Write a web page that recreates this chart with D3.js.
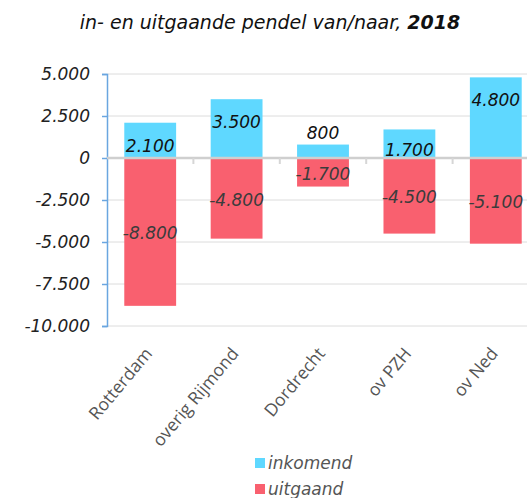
<!DOCTYPE html>
<html>
<head>
<meta charset="utf-8">
<script src="https://cdn.jsdelivr.net/npm/d3@7"></script>
<style>
  body { margin: 0; background: #fff; }
  svg { display: block; font-family: 'DejaVu Sans', Verdana, sans-serif; }
</style>
</head>
<body>
<svg width="527" height="498"></svg>
<script>
var regios = ['Rotterdam', 'overig Rijmond', 'Dordrecht', 'ov PZH', 'ov Ned'];
var inkomend = [2100, 3500, 800, 1700, 4800];
var uitgaand = [-8800, -4800, -1700, -4500, -5100];
var yTicks = [5000, 2500, 0, -2500, -5000, -7500, -10000];

var blauw = '#5fd8ff';
var rood = '#f9606f';

var svg = d3.select('svg');

// Dutch thousands separator and a plain hyphen for negatives
var fmt = function (v) {
    return d3.format(',')(v).replace(/,/g, '.').replace('\u2212', '-');
};

var scaleX = d3.scaleBand().domain(regios).range([107, 539])
    .paddingInner(0.4).paddingOuter(0.2);
var scaleY = d3.scaleLinear().domain([5000, -10000]).range([74, 326]);

// gridlines
svg.append('g')
    .selectAll('line')
    .data(yTicks)
    .enter()
    .append('line')
    .attr('x1', 107)
    .attr('x2', 527)
    .attr('y1', function (d) { return scaleY(d); })
    .attr('y2', function (d) { return scaleY(d); })
    .attr('stroke', '#dcdcdc')
    .attr('stroke-width', 1);

// y axis
var yAxis = svg.append('g')
    .attr('transform', 'translate(107,0)')
    .call(d3.axisLeft(scaleY).tickValues(yTicks).tickSize(5).tickPadding(12).tickFormat(fmt));
yAxis.select('.domain').attr('stroke', '#6aa6e0').attr('stroke-width', 1.5);
yAxis.selectAll('.tick line').attr('stroke', '#6aa6e0').attr('stroke-width', 1.5);
yAxis.selectAll('.tick text')
    .attr('font-size', 17)
    .attr('font-style', 'italic')
    .attr('font-family', 'DejaVu Sans')
    .attr('fill', '#222');

// bars
svg.selectAll('rect.in')
    .data(inkomend)
    .enter()
    .append('rect')
    .attr('class', 'in')
    .attr('x', function (d, i) { return scaleX(regios[i]); })
    .attr('width', scaleX.bandwidth())
    .attr('y', function (d) { return scaleY(d); })
    .attr('height', function (d) { return scaleY(0) - scaleY(d); })
    .attr('fill', blauw);

svg.selectAll('rect.uit')
    .data(uitgaand)
    .enter()
    .append('rect')
    .attr('class', 'uit')
    .attr('x', function (d, i) { return scaleX(regios[i]); })
    .attr('width', scaleX.bandwidth())
    .attr('y', scaleY(0))
    .attr('height', function (d) { return scaleY(d) - scaleY(0); })
    .attr('fill', rood);

// zero axis
var xAxis = svg.append('g')
    .attr('transform', 'translate(0,' + scaleY(0) + ')');
xAxis.append('line')
    .attr('x1', 107).attr('x2', 527)
    .attr('stroke', '#cfcfcf').attr('stroke-width', 2.5);
xAxis.selectAll('line.tk')
    .data(regios.slice(1))
    .enter()
    .append('line')
    .attr('class', 'tk')
    .attr('x1', function (d) { return scaleX(d) - scaleX.step() * scaleX.paddingInner() / 2; })
    .attr('x2', function (d) { return scaleX(d) - scaleX.step() * scaleX.paddingInner() / 2; })
    .attr('y1', 0).attr('y2', 6)
    .attr('stroke', '#d6d6d6').attr('stroke-width', 2);

// x labels
svg.append('g')
    .selectAll('text')
    .data(regios)
    .enter()
    .append('text')
    .attr('transform', function (d) {
        return 'translate(' + (scaleX(d) + scaleX.bandwidth() / 2 + 3) + ',' + 354 + ') rotate(-50)';
    })
    .attr('text-anchor', 'end')
    .attr('font-family', 'Open Sans')
    .attr('font-size', 17.5)
    .attr('fill', '#555')
    .text(function (d) { return d; });

// data labels
svg.selectAll('text.lin')
    .data(inkomend)
    .enter()
    .append('text')
    .attr('class', 'lin')
    .attr('x', function (d, i) { return scaleX(regios[i]) + scaleX.bandwidth() / 2; })
    .attr('y', function (d) {
        var h = scaleY(0) - scaleY(d);
        return h > 25 ? Math.min(scaleY(d) + 23, scaleY(0) - 8) : scaleY(d) - 12;
    })
    .attr('dy', '0.35em')
    .attr('text-anchor', 'middle')
    .attr('font-size', 17)
    .attr('font-style', 'italic')
    .attr('fill', '#111')
    .text(fmt);

svg.selectAll('text.luit')
    .data(uitgaand)
    .enter()
    .append('text')
    .attr('class', 'luit')
    .attr('x', function (d, i) { return scaleX(regios[i]) + scaleX.bandwidth() / 2; })
    .attr('y', function (d) { return (scaleY(0) + scaleY(d)) / 2 + 1.5; })
    .attr('dy', '0.35em')
    .attr('text-anchor', 'middle')
    .attr('font-size', 17)
    .attr('font-style', 'italic')
    .attr('fill', '#3c3c3c')
    .text(fmt);

// title
var title = svg.append('text')
    .attr('x', 270)
    .attr('y', 29)
    .attr('text-anchor', 'middle')
    .attr('font-size', 19)
    .attr('font-style', 'italic')
    .attr('fill', '#111');
title.append('tspan').text('in- en uitgaande pendel van/naar, ');
title.append('tspan').attr('font-weight', 'bold').text('2018');

// legend
var legend = svg.append('g')
    .selectAll('g')
    .data([['inkomend', blauw], ['uitgaand', rood]])
    .enter()
    .append('g')
    .attr('transform', function (d, i) { return 'translate(255,' + (458 + i * 26) + ')'; });
legend.append('rect')
    .attr('width', 10).attr('height', 10)
    .attr('fill', function (d) { return d[1]; });
legend.append('text')
    .attr('x', 13)
    .attr('y', 5)
    .attr('dy', '0.35em')
    .attr('font-size', 17)
    .attr('font-style', 'italic')
    .attr('fill', '#555')
    .text(function (d) { return d[0]; });
</script>
</body>
</html>
